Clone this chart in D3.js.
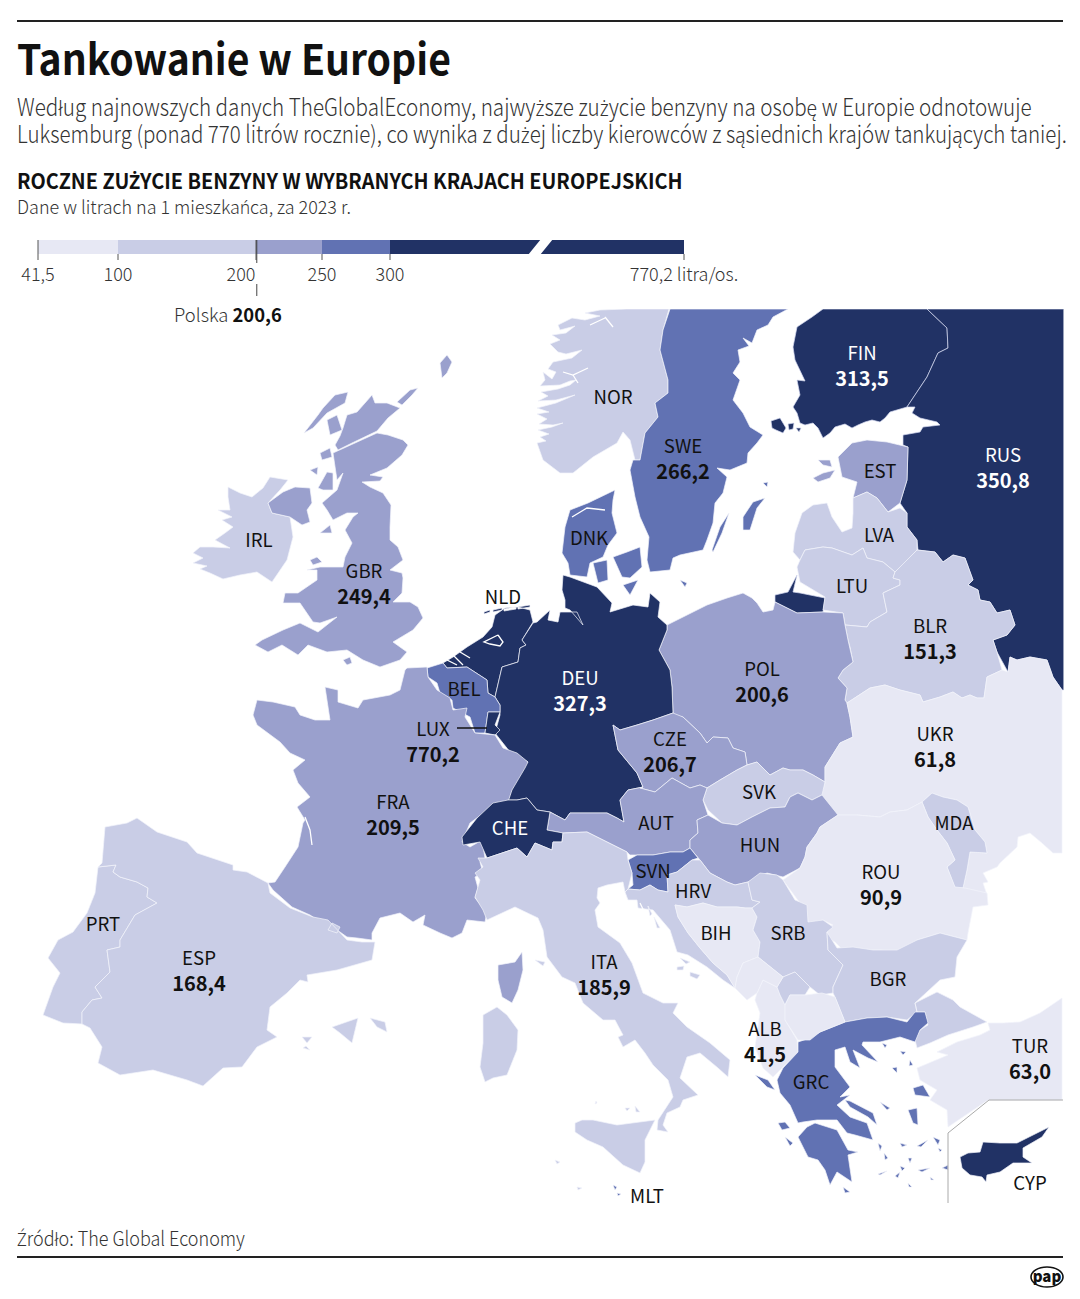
<!DOCTYPE html>
<html lang="pl">
<head>
<meta charset="utf-8">
<title>Tankowanie w Europie</title>
<script src="https://cdn.jsdelivr.net/npm/d3@7"></script>
<style>
html,body{margin:0;padding:0;background:#fff;}
svg{display:block;font-family:"Noto Sans CJK SC","Noto Sans CJK JP",sans-serif;}
</style>
</head>
<body>
<div id="chart"></div>
<script>
// values: litres per inhabitant, printed ones, the rest only known by colour band
var codes = ["FIN","RUS","NOR","SWE","EST","LVA","LTU","DNK","IRL","GBR","NLD","BLR","POL","DEU","BEL","LUX","CZE","UKR","SVK","FRA","AUT","MDA","CHE","HUN","SVN","ROU","HRV","PRT","BIH","SRB","ESP","ITA","BGR","ALB","TUR","GRC","CYP","MLT","XKX","MNE","MKD"];
var values = [313.5,350.8,170,266.2,230,160,175,255,190,249.4,340,151.3,200.6,327.3,260,770.2,206.7,61.8,150,209.5,225,120,310,215,270,90.9,160,165,85,135,168.4,185.9,145,41.5,63.0,262,320,265,130,80,70];
var printed = ["FIN","RUS","SWE","GBR","BLR","POL","DEU","LUX","CZE","UKR","FRA","ROU","ESP","ITA","ALB","TUR"];
var bandLimits = [100,200,250,300];
var bandColors = ["#e7e8f4","#c9cde6","#9aa0cd","#6172b3","#213265"];
var legendTicks = [41.5,100,200,250,300,770.2];
var legendLabels = ["41,5","100","200","250","300","770,2 litra/os."];
var polandValue = 200.6;

// label anchors in map units
var labelPlaces = {FIN:[862,353],RUS:[1003,455],NOR:[613,397],SWE:[683,446],EST:[880,471],LVA:[879,535],LTU:[852,586],DNK:[589,538],IRL:[259,540],GBR:[364,571],NLD:[503,597],BLR:[930,626],POL:[762,669],DEU:[580,678],BEL:[464,689],LUX:[433,729],CZE:[670,739],UKR:[935,734],SVK:[759,792],FRA:[393,802],AUT:[656,823],MDA:[954,823],CHE:[510,828],HUN:[760,845],SVN:[653,871],ROU:[881,872],HRV:[693,891],PRT:[103,924],BIH:[716,933],SRB:[788,933],ESP:[199,958],ITA:[604,962],BGR:[888,979],ALB:[765,1029],TUR:[1030,1046],GRC:[811,1082],CYP:[1030,1183],MLT:[647,1196]};

// outlines, map units, one string per ring
var outlines = {
NOR:["669,309 663,330 660,350 668,380 668,393 655,403 658,417 645,433 640,460 635,460 630,440 623,432 617,443 593,457 573,473 560,473 543,460 537,443 546,441 540,437 549,434 538,430 552,427 563,423 553,425 539,424 547,419 537,414 549,412 537,408 556,403 575,395 556,400 538,401 548,396 541,392 558,389 570,385 576,380 570,381 560,385 540,386 545,380 543,372 552,379 556,372 548,369 553,362 572,358 582,350 566,354 558,352 550,344 560,340 552,335 566,333 575,326 560,330 558,325 572,318 585,320 600,316 585,313 600,310 627,309"],
SWE:["670,309 788,309 773,317 768,325 757,330 752,343 743,338 749,346 738,350 740,362 733,373 740,380 733,400 743,413 750,427 763,435 757,443 748,453 747,463 730,470 717,468 727,477 723,493 715,503 713,523 707,540 703,550 680,555 673,558 670,570 650,572 647,560 649,537 640,517 635,497 630,470 633,460 640,460 645,433 658,417 655,403 668,393 668,380 660,350 663,330",
 "743,517 753,502 765,498 757,508 750,530 743,530","712,550 720,527 729,513 722,533 713,552","763,483 768,482 767,487"],
FIN:["823,309 927,309 947,328 948,348 938,353 927,377 907,407 890,412 885,418 880,422 872,420 865,422 858,425 852,428 845,424 835,427 830,433 823,438 818,428 813,423 805,425 800,423 797,413 793,407 800,395 797,380 805,381 795,360 793,347 797,327 812,317",
 "771,421 780,418 786,428 783,433 776,430 772,428","788,424 794,423 793,429 789,430","796,428 801,428 799,432"],
RUS:["927,309 1064,309 1064,690 1062,690 1053,677 1047,660 1030,657 1017,660 1010,657 1008,672 997,652 993,640 1007,635 1015,625 1010,610 997,613 990,602 980,600 978,590 968,585 973,580 965,558 953,555 943,562 935,552 918,550 917,540 907,527 907,513 900,503 907,480 908,447 903,445 903,435 920,432 923,427 940,425 937,422 920,418 912,413 915,407 907,407 927,377 938,353 948,348 947,328",
 "775,595 788,592 797,575 793,592 800,593 825,598 823,612 797,613 775,602"],
EST:["838,457 852,443 867,440 887,442 908,447 907,480 900,503 888,512 877,498 867,492 853,498 857,482 842,477","813,478 823,473 835,470 830,478 818,482","818,460 830,460 832,467 823,465"],
LVA:["853,498 867,492 877,498 888,512 900,508 907,513 907,527 917,540 917,550 903,565 895,572 883,562 867,558 863,548 852,555 832,548 823,547 805,550 800,560 793,552 795,533 802,513 813,505 827,503 832,517 842,532 852,528 853,513"],
LTU:["800,560 805,550 823,547 832,548 852,555 863,548 867,558 883,562 895,572 893,578 900,580 900,585 883,593 887,612 870,622 867,627 845,625 843,613 823,610 825,597 800,582 797,567"],
BLR:["895,572 917,550 935,552 943,562 953,555 965,558 973,580 968,585 978,590 980,600 990,602 997,613 1010,610 1015,625 1007,635 993,640 997,652 1002,670 987,677 984,698 977,698 970,695 962,698 953,692 940,697 923,702 920,695 900,690 885,685 870,688 847,703 845,700 847,688 838,678 843,670 853,662 850,647 848,640 845,625 867,627 870,622 887,612 883,593 900,585 900,580 893,578"],
DNK:["562,553 565,527 570,510 588,503 615,490 613,500 612,513 617,533 608,545 603,557 590,563 587,577 570,575 568,563","613,557 627,552 640,547 642,567 630,578 622,577","593,563 607,560 608,580 598,583","623,585 638,580 630,595","680,580 687,583 685,587"],
IRL:["263,488 270,477 288,480 280,490 268,503 272,513 290,517 293,537 287,560 272,582 257,572 240,575 223,579 210,573 200,569 207,566 193,563 203,558 193,553 200,547 213,547 230,548 215,540 225,533 233,527 222,520 232,517 218,510 230,510 228,497 228,487 240,493 252,497"],
GBR:["347,415 357,412 365,403 372,395 375,403 387,403 400,408 388,418 377,431 352,443 338,450 335,445 340,436 343,428",
 "377,433 388,435 403,440 408,445 402,455 387,468 370,475 383,477 380,481 362,482 370,487 383,493 391,505 390,527 390,540 398,547 403,560 390,570 402,573 403,578 402,593 393,602 410,602 418,607 423,618 413,630 393,642 407,652 400,660 380,667 363,660 347,650 327,652 308,645 298,655 282,645 268,652 255,645 262,640 283,630 300,623 318,632 337,617 320,623 313,622 300,603 283,603 285,593 298,593 317,580 317,570 307,570 320,567 343,567 345,557 352,543 345,530 353,517 358,513 347,513 333,520 327,510 322,503 337,490 343,473 337,480 333,453",
 "304,433 318,415 323,408 335,395 348,392 345,403 327,413 313,428","327,420 337,415 342,430 330,435","320,453 330,448 332,457 322,460","310,470 318,467 317,475","318,488 327,472 333,473 333,490 323,490","320,533 330,525 332,533","310,560 317,557 322,562 313,565","440,363 447,355 452,362 447,373 442,378","397,402 410,390 418,388 412,395 402,405","343,660 350,657 352,663 347,665",
 "268,503 283,492 295,487 310,488 312,503 307,510 310,522 302,525 290,517 272,513"],
NLD:["533,622 530,610 518,607 505,608 495,615 492,627 483,637 467,647 453,657 443,663 447,668 467,667 487,680 488,693 495,697 502,667 518,662 520,648 526,645 522,640","484,612 490,610 490,612 484,614","493,610 502,608 502,610 493,612","504,609 516,607 516,609 504,611","518,607 530,605 530,607 518,609"],
BEL:["427,668 443,663 447,668 467,667 487,680 488,693 495,697 500,705 500,712 488,712 485,733 475,733 470,717 453,708 452,700 440,693 437,683 428,677"],
LUX:["488,712 500,712 495,725 500,730 495,735 485,733"],
DEU:["563,575 570,577 597,587 612,603 610,612 633,605 648,607 650,593 660,602 658,617 667,625 667,630 659,650 670,670 672,687 673,713 653,720 637,725 620,730 613,725 618,750 637,773 643,787 628,790 620,800 624,822 617,818 607,813 587,813 570,813 565,820 550,812 537,810 527,798 517,800 508,800 518,770 528,762 510,752 495,733 500,715 500,705 495,697 502,667 518,662 520,648 526,645 522,640 533,623 537,622 550,610 548,620 558,622 560,612 577,612 583,625 570,610 565,608 565,600 562,590"],
POL:["667,625 687,615 707,605 727,598 743,593 752,598 757,603 763,612 773,610 775,602 797,613 823,612 843,613 845,625 848,640 853,662 843,670 838,678 847,688 845,700 847,703 850,717 853,737 840,743 825,767 825,782 813,775 803,770 790,770 783,768 770,775 757,762 747,765 745,752 733,748 728,738 713,737 707,743 700,733 683,717 672,715 673,713 672,687 670,670 659,650 667,630"],
CZE:["613,725 620,730 637,725 653,720 673,713 683,717 700,733 707,743 713,737 728,738 733,748 745,752 747,765 737,770 720,780 707,788 700,785 690,788 672,778 655,792 640,788 643,787 637,773 618,750"],
SVK:["707,788 720,780 737,770 747,765 757,762 770,775 783,768 790,770 803,770 813,775 825,782 822,795 812,800 798,793 790,797 785,807 770,808 752,817 737,825 722,823 708,810 703,800"],
AUT:["643,787 628,790 620,800 624,822 617,818 607,813 587,813 570,813 565,820 550,812 547,830 563,833 587,832 603,840 627,852 630,855 653,855 670,852 683,852 690,848 690,840 698,833 697,820 708,815 703,800 707,788 700,785 690,788 672,778 655,792 640,788"],
CHE:["508,800 517,800 527,798 537,810 550,812 547,830 563,833 562,842 553,842 552,850 535,843 527,857 517,848 487,858 480,842 463,845 462,837 477,818 493,803"],
HUN:["708,815 722,823 737,825 752,817 770,808 785,807 790,797 798,793 812,800 822,795 838,815 820,827 817,833 807,847 805,857 800,868 783,877 767,873 748,882 735,885 727,882 710,873 700,860 690,848 690,840 698,833 697,820"],
SVN:["628,860 637,855 653,855 670,852 683,852 690,848 698,858 692,860 677,872 667,875 668,892 658,890 650,885 640,890 628,889 633,885 632,873"],
HRV:["692,860 700,860 710,873 727,882 735,885 748,882 752,900 760,902 752,908 745,908 737,907 717,907 703,903 687,907 675,905 678,917 688,933 700,948 713,963 727,975 735,988 723,980 707,967 688,955 677,952 670,930 653,910 638,908 637,900 628,900 625,892 628,889 640,890 650,885 658,890 668,892 667,875 677,872","677,967 684,966 683,970 677,970","690,972 700,975 697,979 690,976","680,958 690,962 686,964","648,906 652,914 650,916","654,917 660,928 657,928"],
BIH:["675,905 687,907 703,903 717,907 737,907 745,908 752,908 757,917 753,930 760,942 758,957 743,963 737,977 735,988 727,975 713,963 700,948 688,933 678,917"],
SRB:["748,882 760,873 777,875 783,880 795,900 807,905 808,922 823,920 833,927 827,932 828,950 843,965 833,987 833,993 820,995 810,987 795,972 783,977 758,957 760,942 753,930 757,917 752,908 760,902 752,900"],
XKX:["777,987 783,977 795,972 810,987 805,995 790,995 785,1005 780,995"],
MNE:["743,963 758,957 783,977 777,987 763,980 757,993 747,1000 735,988 737,977"],
ALB:["757,993 763,980 777,987 780,995 785,1005 785,1020 797,1040 798,1052 782,1068 773,1077 763,1068 755,1047 760,1013 755,1000"],
MKD:["785,1005 790,995 805,995 822,993 835,997 845,1022 820,1032 810,1040 798,1040 785,1020"],
BGR:["827,932 837,948 853,947 873,950 897,950 917,940 940,933 967,940 957,957 955,977 940,980 915,1003 917,1012 907,1020 887,1017 867,1018 845,1022 835,997 833,993 833,987 843,965 828,950",
 "915,1003 937,992 953,1000 960,1007 987,1022 973,1027 948,1035 930,1043 917,1048 915,1040 920,1030 928,1025 925,1012 917,1012"],
TUR:["1062,998 1040,1013 1020,1022 1003,1023 988,1023 990,1030 980,1035 957,1042 937,1052 948,1055 917,1068 920,1080 937,1090 930,1100 947,1110 948,1127 988,1100 1062,1100"],
ROU:["838,815 857,815 880,817 890,812 907,810 922,802 928,817 937,830 947,843 955,860 947,867 955,887 965,888 987,893 988,905 973,907 968,933 967,940 940,933 917,940 900,952 880,950 862,950 843,950 835,942 827,937 827,928 833,925 823,920 808,925 807,910 800,903 783,880 800,868 805,857 807,847 817,833 820,827"],
MDA:["922,802 932,793 943,797 957,800 968,807 975,830 985,842 987,853 970,852 967,870 963,888 955,888 947,867 955,860 947,843 937,830 928,817"],
UKR:["847,703 870,688 885,685 900,690 920,695 923,702 940,697 953,692 962,698 970,695 977,698 984,698 987,677 1002,670 1008,672 1010,657 1017,660 1030,657 1047,660 1053,677 1062,690 1062,853 1053,853 1042,843 1030,833 1018,837 1017,847 1000,863 997,867 983,873 988,882 983,883 987,895 963,893 963,888 967,870 970,852 987,853 985,842 975,830 968,807 957,800 943,797 932,793 922,802 907,810 890,812 880,817 857,815 838,815 820,798 825,783 825,767 840,743 853,737 850,717"],
GRC:["798,1042 810,1038 820,1032 845,1022 867,1018 887,1017 907,1022 915,1012 925,1012 928,1023 920,1030 915,1042 900,1037 880,1042 863,1042 862,1045 878,1062 868,1058 853,1050 860,1068 850,1062 845,1047 835,1050 835,1067 850,1087 840,1097 850,1095 837,1105 850,1117 867,1123 873,1140 855,1135 847,1133 837,1120 817,1120 803,1122 798,1123 790,1105 780,1093 777,1080 783,1068 798,1052",
 "807,1127 815,1123 837,1130 848,1150 858,1152 848,1155 852,1182 837,1172 830,1185 825,1170 818,1160 808,1157 798,1137",
 "845,1100 850,1101 873,1113 877,1125 868,1117 850,1107","843,1187 850,1192 845,1193","755,1075 768,1080 775,1090 767,1087","778,1123 785,1122 790,1128 782,1130","785,1137 793,1143 790,1146","913,1088 923,1085 930,1097 915,1095","908,1110 917,1108 918,1125 913,1123","892,1068 897,1067 897,1073","882,1043 887,1045 885,1048","900,1051 906,1052 903,1055","910,1060 913,1065 909,1066","880,1102 890,1108 887,1110",
 "878,1143 882,1146 880,1151","884,1153 888,1158 885,1160","900,1143 907,1145 902,1147","917,1146 928,1140 921,1147","933,1137 940,1140 938,1145","908,1158 912,1158 910,1163","900,1166 905,1168 902,1171","938,1148 942,1150 940,1152","918,1170 930,1168 922,1172","878,1174 887,1171 880,1175","908,1183 912,1187 909,1187","930,1177 934,1180 931,1180","942,1168 948,1165 948,1170","895,1176 900,1172 898,1178"],
PRT:["98,867 116,865 113,872 120,877 137,882 148,888 147,897 157,903 135,915 120,940 120,947 107,950 110,972 95,987 102,998 92,1000 82,1012 82,1024 63,1023 43,1015 53,987 60,973 48,958 58,940 73,932 87,913 95,893"],
ESP:["102,863 105,827 127,823 137,818 157,832 187,842 197,853 233,865 233,870 247,872 268,883 270,893 290,908 313,917 328,920 347,940 362,942 375,942 372,960 337,970 307,975 308,982 300,980 287,993 270,1007 267,1030 277,1037 257,1047 242,1067 223,1068 203,1086 187,1080 153,1070 120,1075 98,1063 102,1047 90,1028 82,1024 82,1012 92,1000 102,998 95,987 110,972 107,950 120,947 120,940 135,915 157,903 147,897 148,888 137,882 120,877 113,872 116,865 98,867",
 "332,1027 358,1018 352,1043 340,1033","370,1018 385,1022 387,1032 377,1027","302,1037 312,1037 307,1043","303,1048 310,1050 306,1046","328,930 332,923 340,927 337,933"],
FRA:["407,668 427,667 428,677 437,690 450,698 453,710 467,708 465,717 475,733 495,735 503,748 517,753 528,762 525,768 512,790 508,802 497,803 470,823 462,842 470,847 482,840 485,858 480,862 483,873 475,877 478,888 475,898 487,912 485,922 467,920 462,933 452,938 440,933 423,925 425,915 413,922 400,913 380,918 372,933 372,940 357,938 347,937 340,932 328,927 310,915 292,907 273,890 268,883 275,882 285,867 298,847 303,823 305,820 297,807 310,797 298,783 293,770 305,760 290,753 280,742 257,725 253,715 257,700 273,702 295,707 300,715 315,720 330,720 325,687 338,690 338,702 358,708 363,700 390,695 400,690 405,670",
 "522,952 523,970 518,990 512,1003 502,997 498,980 498,965 515,962"],
ITA:["478,858 487,858 517,848 527,857 535,843 552,850 553,842 562,842 563,833 587,832 603,840 627,852 628,860 632,873 628,889 625,892 623,882 607,885 598,888 597,898 600,903 595,910 598,927 620,943 632,963 643,993 663,1003 678,1003 673,1013 687,1027 710,1043 730,1060 728,1077 718,1068 700,1053 687,1057 680,1078 698,1095 683,1100 680,1107 667,1113 663,1125 668,1132 657,1130 658,1120 673,1097 668,1080 653,1065 645,1053 635,1040 623,1047 618,1037 623,1035 615,1020 603,1020 583,1003 575,983 562,977 547,957 543,930 538,918 515,907 502,913 487,920 483,910 475,897 480,880 475,873 483,867",
 "483,1015 497,1007 507,1015 518,1030 517,1050 507,1075 493,1078 485,1082 480,1067 483,1043","575,1123 582,1120 593,1120 617,1125 655,1120 645,1140 645,1162 640,1173 623,1165 603,1147 587,1140 575,1132","535,960 545,962 543,966","555,1160 560,1162 557,1164","577,1187 582,1188 578,1190","625,1108 630,1108 627,1111","635,1106 640,1112 636,1112","596,1101 597,1103 595,1104"],
MLT:["613,1185 617,1187 615,1190","617,1193 621,1194 618,1196"],
CYP:["960,1157 968,1153 980,1152 983,1142 1000,1143 1017,1143 1033,1135 1049,1127 1042,1137 1023,1148 1023,1157 1032,1163 1013,1163 1000,1172 987,1175 986,1182 982,1177 970,1175 962,1168"]
};

// white inland water and fjord cuts drawn over the fills
var waterLines = ["563,372 573,375 588,368","573,375 578,383","590,325 605,318","605,317 613,327","305,817 310,830 312,845","447,660 457,665","453,655 463,665","460,652 470,658","572,517 587,508 605,510","498,635 503,642 500,646 490,644 484,642 498,635","640,903 653,930 668,950"];
var insetFrame = "948,1203 948,1133 989,1100 1063,1100";

function toCoords(ring) {
	return ring.split(" ").map(function(p) { return p.split(",").map(Number); });
}

var width = 1080, height = 1299;
var svg = d3.select("#chart").append("svg").attr("width", width).attr("height", height);

// rules
svg.append("line").attr("x1",17).attr("x2",1063).attr("y1",21).attr("y2",21).attr("stroke","#222").attr("stroke-width",2);
svg.append("line").attr("x1",17).attr("x2",1063).attr("y1",1257).attr("y2",1257).attr("stroke","#222").attr("stroke-width",2);

// the CJK font composes these badly, so they come from Noto Sans
function addChars(node, str) {
	str.split(/([żŻźŹęąłńśćŃŚ])/).forEach(function(part,i) {
		if (!part) return;
		var t = node.append("tspan").text(part);
		if (i%2==1) t.style("font-family","'Noto Sans'").attr("font-size","0.94em");
	});
}
// text squeezed sideways to the width of the original line
function addFit(x, y, str, size, weight, fill, w) {
	var t = svg.append("text").attr("font-size",size+"px").attr("font-weight",weight).attr("fill",fill)
	.attr("transform","translate("+x+","+y+")");
	addChars(t,str);
	var len = t.node().getComputedTextLength();
	t.attr("transform","translate("+x+","+y+") scale("+(w/len)+",1)");
	return t;
}
addFit(17,75,"Tankowanie w Europie",42,700,"#111",434);
addFit(17,116,"Według najnowszych danych TheGlobalEconomy, najwyższe zużycie benzyny na osobę w Europie odnotowuje",24,300,"#333",1015);
addFit(17,143,"Luksemburg (ponad 770 litrów rocznie), co wynika z dużej liczby kierowców z sąsiednich krajów tankujących taniej.",24,300,"#333",1050);
addFit(17,189,"ROCZNE ZUŻYCIE BENZYNY W WYBRANYCH KRAJACH EUROPEJSKICH",21,700,"#111",666);
addFit(17,214,"Dane w litrach na 1 mieszkańca, za 2023 r.",18.4,300,"#333",334);
addFit(17,1246,"Źródło: The Global Economy",20,300,"#333",228);

var color = d3.scaleThreshold().domain(bandLimits).range(bandColors);

// legend: a scale with a bend at every band limit
var legendX = d3.scaleLinear().domain(legendTicks).range([38,118,256,322,390,684]);
var legend = svg.append("g");
var legendStops = legendTicks.slice(0,-1).map(function(d,i) { return [d,legendTicks[i+1]]; });
legend.selectAll("rect").data(legendStops).enter().append("rect")
.attr("x",function(d) { return legendX(d[0]); })
.attr("width",function(d) { return legendX(d[1])-legendX(d[0]); })
.attr("y",240).attr("height",14)
.attr("fill",function(d) { return color(d[0]); });
legend.append("path").attr("d","M541,239L553,239L540,255L528,255Z").attr("fill","#fff");
// ticks hang under the bar, only the first one and 200 run through it
legend.selectAll("line.tick").data(legendTicks).enter().append("line").attr("class","tick")
.attr("x1",legendX).attr("x2",legendX)
.attr("y1",function(d,i) { return i==0||i==2 ? 240 : 254; }).attr("y2",260)
.attr("stroke","#555").attr("stroke-width",1);
legend.selectAll("text").data(legendTicks).enter().append("text")
.attr("x",function(d,i) { return i==2 ? legendX(d)-15 : legendX(d); })
.attr("y",281).text(function(d,i) { return legendLabels[i]; })
.attr("font-size","18px").attr("font-weight",300).attr("fill","#333").style("text-anchor","middle");
legend.append("line").attr("x1",legendX(polandValue)).attr("x2",legendX(polandValue)).attr("y1",240).attr("y2",263).attr("stroke","#444");
legend.append("line").attr("x1",legendX(polandValue)).attr("x2",legendX(polandValue)).attr("y1",284).attr("y2",296).attr("stroke","#444");
var polska = svg.append("text").attr("x",228).attr("y",322).attr("font-size","18.4px").attr("font-weight",300).attr("fill","#333").style("text-anchor","middle").text("Polska ");
polska.append("tspan").attr("font-weight",700).attr("fill","#111").text(String(polandValue).replace(".",","));

// map
var features = codes.map(function(c,i) {
	return {type:"Feature",id:c,properties:{value:values[i]},
		geometry:{type:"MultiPolygon",coordinates:outlines[c].map(function(r) {
			var coords = toCoords(r);
			coords.push(coords[0]);
			return [coords];
		})}};
});
var path = d3.geoPath(d3.geoIdentity());

svg.append("clipPath").attr("id","mapClip").append("rect").attr("x",0).attr("y",309).attr("width",1063.5).attr("height",920);
var map = svg.append("g").attr("clip-path","url(#mapClip)");

map.selectAll("path.country").data(features).enter().append("path")
.attr("class","country")
.attr("d",path)
.attr("fill",function(d) { return color(d.properties.value); })
.attr("stroke",function(d) { return d.id=="RUS"||d.id=="FIN" ? "#d6daf0" : "#f2f3fb"; })
.attr("stroke-width",0.7)
.attr("stroke-linejoin","round");

map.selectAll("path.water").data(waterLines).enter().append("path")
.attr("class","water")
.attr("d",function(d) { return path({type:"LineString",coordinates:toCoords(d)}); })
.attr("fill","none").attr("stroke","#fff").attr("stroke-width",1.3);

map.append("path").attr("d",path({type:"LineString",coordinates:toCoords(insetFrame)}))
.attr("fill","none").attr("stroke","#aaa").attr("stroke-width",1);

// leader for Luxembourg
var luxAt = labelPlaces.LUX;
map.append("line").attr("x1",luxAt[0]+24).attr("x2",luxAt[0]+54).attr("y1",luxAt[1]-1).attr("y2",luxAt[1]-1).attr("stroke","#111").attr("stroke-width",1.5);

// labels
var onDark = ["FIN","RUS","DEU","CHE"];
var labels = map.selectAll("g.label").data(codes.filter(function(c) { return labelPlaces[c]; })).enter().append("g").attr("class","label")
.attr("transform",function(c) { return "translate("+labelPlaces[c]+")"; })
.style("text-anchor","middle")
.attr("fill",function(c) { return onDark.indexOf(c)>=0 ? "#fff" : "#111"; });
labels.append("text").attr("y",7).attr("font-size","18.6px").text(function(c) { return c; });
labels.filter(function(c) { return printed.indexOf(c)>=0; }).append("text").attr("y",33).attr("font-size","20px").attr("font-weight",700)
.text(function(c) { return values[codes.indexOf(c)].toFixed(1).replace(".",","); });

// logo
var logo = svg.append("g").attr("transform","translate(1047,1277)");
logo.append("ellipse").attr("rx",16).attr("ry",10).attr("fill","none").attr("stroke","#111").attr("stroke-width",1.6);
logo.append("text").attr("y",5).text("pap").attr("font-size","15px").attr("font-weight",900).attr("fill","#111").style("text-anchor","middle");
</script>
</body>
</html>
